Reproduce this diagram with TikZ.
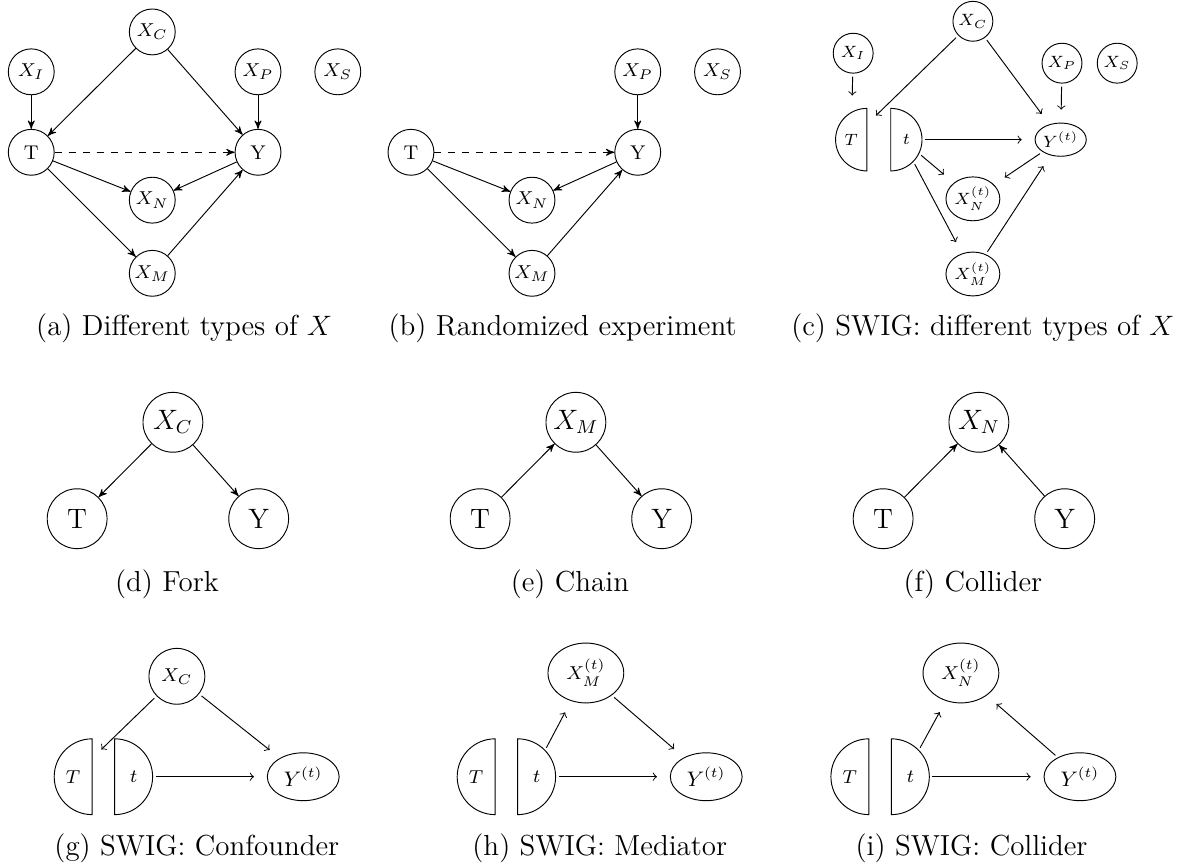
\documentclass[tikz,border=0pt]{standalone}
\usetikzlibrary{arrows}
\usetikzlibrary{shapes.geometric}

\tikzset{
  dagnode/.style={circle, draw, inner sep=0pt, minimum size=0.69cm, font=\fontsize{8.5}{10}\selectfont},
  bignode/.style={dagnode, minimum size=0.9cm, font=\fontsize{12}{14}\selectfont},
  tinynode/.style={dagnode, minimum size=0.6cm, font=\fontsize{7}{8}\selectfont},
  potnode/.style={ellipse, draw, inner sep=0pt},
  halfnode/.style={rectangle, inner sep=0pt, outer sep=0pt},
  dag/.style={-stealth'},
  swigarr/.style={->, shorten >=5.5pt, shorten <=1.3pt},
  subcap/.style={anchor=base, font=\fontsize{12.4}{14.5}\selectfont}
}

\begin{document}
\begin{tikzpicture}
	\useasboundingbox (0,0) rectangle (18,-13.04);

	% (a)
	\node[dagnode] (xca) at (2.29,-0.48) {$X_C$};
	\node[dagnode] (xia) at (0.47,-1.08) {$X_I$};
	\node[dagnode] (xpa) at (3.88,-1.08) {$X_P$};
	\node[dagnode] (xsa) at (5.08,-1.08) {$X_S$};
	\node[dagnode] (ta) at (0.47,-2.29) {T};
	\node[dagnode] (ya) at (3.88,-2.29) {Y};
	\node[dagnode] (xna) at (2.29,-3.01) {$X_N$};
	\node[dagnode] (xma) at (2.29,-4.11) {$X_M$};
	\draw[dag] (xia) -- (ta);
	\draw[dag] (xca) -- (ta);
	\draw[dag] (xca) -- (ya);
	\draw[dag] (xpa) -- (ya);
	\draw[dag, dashed] (ta) -- (ya);
	\draw[dag] (ta) -- (xna);
	\draw[dag] (ya) -- (xna);
	\draw[dag] (ta) -- (xma);
	\draw[dag] (xma) -- (ya);
	\node[subcap] (capa) at (2.77,-5.05) {(a) Different types of $X$};

	% (b)
	\begin{scope}[xshift=5.71cm]
		\node[dagnode] (xpb) at (3.88,-1.08) {$X_P$};
		\node[dagnode] (xsb) at (5.08,-1.08) {$X_S$};
		\node[dagnode] (tb) at (0.47,-2.29) {T};
		\node[dagnode] (yb) at (3.88,-2.29) {Y};
		\node[dagnode] (xnb) at (2.29,-3.01) {$X_N$};
		\node[dagnode] (xmb) at (2.29,-4.11) {$X_M$};
		\draw[dag] (xpb) -- (yb);
		\draw[dag, dashed] (tb) -- (yb);
		\draw[dag] (tb) -- (xnb);
		\draw[dag] (yb) -- (xnb);
		\draw[dag] (tb) -- (xmb);
		\draw[dag] (xmb) -- (yb);
		\node[subcap] (capb) at (2.75,-5.05) {(b) Randomized experiment};
	\end{scope}

	% (c)
	\node[tinynode] (xcc) at (14.63,-0.32) {$X_C$};
	\node[tinynode] (xic) at (12.83,-0.80) {$X_I$};
	\node[tinynode] (xpc) at (15.97,-0.95) {$X_P$};
	\node[tinynode] (xsc) at (16.80,-0.95) {$X_S$};
	\node[halfnode, minimum width=0.47cm, minimum height=0.94cm, font=\fontsize{7}{8}\selectfont] (hTc) at (12.80,-2.10) {$T$};
	\node[halfnode, minimum width=0.47cm, minimum height=0.94cm, font=\fontsize{7}{8}\selectfont] (htc) at (13.63,-2.10) {$t$};
	\draw (hTc.north east) arc[start angle=90, end angle=270, radius=0.47cm] -- cycle;
	\draw (htc.north west) arc[start angle=90, end angle=-90, radius=0.47cm] -- cycle;
	\node[potnode, minimum width=0.77cm, minimum height=0.5cm, font=\fontsize{7}{8}\selectfont] (yc) at (15.95,-2.10) {$Y^{(t)}$};
	\node[potnode, minimum width=0.81cm, minimum height=0.66cm, font=\fontsize{7}{8}\selectfont] (xnc) at (14.63,-2.99) {$X_N^{(t)}$};
	\node[potnode, minimum width=0.81cm, minimum height=0.66cm, font=\fontsize{7}{8}\selectfont] (xmc) at (14.63,-4.12) {$X_M^{(t)}$};
	\draw[swigarr] (xic) -- (hTc);
	\draw[swigarr] (xcc) -- (hTc);
	\draw[swigarr] (xcc) -- (yc);
	\draw[swigarr] (xpc) -- (yc);
	\draw[swigarr] (htc) -- (yc);
	\draw[swigarr] ([shift={(-26:0.47cm)}]htc.west) -- (xnc);
	\draw[swigarr] (yc) -- (xnc);
	\draw[swigarr] ([shift={(-44:0.47cm)}]htc.west) -- (xmc);
	\draw[swigarr] (xmc) -- (yc);
	\node[subcap] (capc) at (14.78,-5.05) {(c) SWIG: different types of $X$};

	% (d) fork
	\node[bignode] (xcd) at (2.60,-6.35) {$X_C$};
	\node[bignode] (td) at (1.16,-7.80) {T};
	\node[bignode] (yd) at (3.89,-7.80) {Y};
	\draw[dag] (xcd) -- (td);
	\draw[dag] (xcd) -- (yd);
	\node[subcap] (capd) at (2.51,-8.89) {(d) Fork};

	% (e) chain
	\begin{scope}[xshift=6.06cm]
		\node[bignode] (xme) at (2.60,-6.35) {$X_M$};
		\node[bignode] (te) at (1.16,-7.80) {T};
		\node[bignode] (ye) at (3.89,-7.80) {Y};
		\draw[dag] (te) -- (xme);
		\draw[dag] (xme) -- (ye);
		\node[subcap] (cape) at (2.51,-8.89) {(e) Chain};
	\end{scope}

	% (f) collider
	\begin{scope}[xshift=12.12cm]
		\node[bignode] (xnf) at (2.60,-6.35) {$X_N$};
		\node[bignode] (tf) at (1.16,-7.80) {T};
		\node[bignode] (yf) at (3.89,-7.80) {Y};
		\draw[dag] (tf) -- (xnf);
		\draw[dag] (yf) -- (xnf);
		\node[subcap] (capf) at (2.51,-8.89) {(f) Collider};
	\end{scope}

	% (g) swig confounder
	\node[dagnode, minimum size=0.84cm] (xcg) at (2.66,-10.17) {$X_C$};
	\node[halfnode, minimum width=0.57cm, minimum height=1.14cm, font=\fontsize{8}{9}\selectfont] (hTg) at (1.10,-11.68) {$T$};
	\node[halfnode, minimum width=0.57cm, minimum height=1.14cm, font=\fontsize{8}{9}\selectfont] (htg) at (2.01,-11.68) {$t$};
	\draw (hTg.north east) arc[start angle=90, end angle=270, radius=0.57cm] -- cycle;
	\draw (htg.north west) arc[start angle=90, end angle=-90, radius=0.57cm] -- cycle;
	\node[potnode, minimum width=1.08cm, minimum height=0.72cm, font=\fontsize{9}{10}\selectfont] (yg) at (4.56,-11.68) {$Y^{(t)}$};
	\draw[swigarr] (xcg) -- (hTg);
	\draw[swigarr] (xcg) -- (yg);
	\draw[swigarr] (htg) -- (yg);
	\node[subcap] (capg) at (2.96,-12.86) {(g) SWIG: Confounder};

	% (h) swig mediator
	\begin{scope}[xshift=6.06cm]
		\node[potnode, minimum width=1.14cm, minimum height=0.9cm, font=\fontsize{8.5}{10}\selectfont] (xmh) at (2.75,-10.12) {$X_M^{(t)}$};
		\node[halfnode, minimum width=0.57cm, minimum height=1.14cm, font=\fontsize{8}{9}\selectfont] (hTh) at (1.10,-11.68) {$T$};
		\node[halfnode, minimum width=0.57cm, minimum height=1.14cm, font=\fontsize{8}{9}\selectfont] (hth) at (2.01,-11.68) {$t$};
		\draw (hTh.north east) arc[start angle=90, end angle=270, radius=0.57cm] -- cycle;
		\draw (hth.north west) arc[start angle=90, end angle=-90, radius=0.57cm] -- cycle;
		\node[potnode, minimum width=1.08cm, minimum height=0.72cm, font=\fontsize{9}{10}\selectfont] (yh) at (4.56,-11.68) {$Y^{(t)}$};
		\draw[swigarr] ([shift={(44:0.57cm)}]hth.west) -- (xmh);
		\draw[swigarr] (xmh) -- (yh);
		\draw[swigarr] (hth) -- (yh);
		\node[subcap] (caph) at (2.96,-12.86) {(h) SWIG: Mediator};
	\end{scope}

	% (i) swig collider
	\begin{scope}[xshift=11.68cm]
		\node[potnode, minimum width=1.14cm, minimum height=0.9cm, font=\fontsize{8.5}{10}\selectfont] (xni) at (2.77,-10.12) {$X_N^{(t)}$};
		\node[halfnode, minimum width=0.57cm, minimum height=1.14cm, font=\fontsize{8}{9}\selectfont] (hTi) at (1.10,-11.68) {$T$};
		\node[halfnode, minimum width=0.57cm, minimum height=1.14cm, font=\fontsize{8}{9}\selectfont] (hti) at (2.01,-11.68) {$t$};
		\draw (hTi.north east) arc[start angle=90, end angle=270, radius=0.57cm] -- cycle;
		\draw (hti.north west) arc[start angle=90, end angle=-90, radius=0.57cm] -- cycle;
		\node[potnode, minimum width=1.08cm, minimum height=0.72cm, font=\fontsize{9}{10}\selectfont] (yi) at (4.56,-11.68) {$Y^{(t)}$};
		\draw[swigarr] ([shift={(44:0.57cm)}]hti.west) -- (xni);
		\draw[swigarr] (yi) -- (xni);
		\draw[swigarr] (hti) -- (yi);
		\node[subcap] (capi) at (2.93,-12.86) {(i) SWIG: Collider};
	\end{scope}
\end{tikzpicture}
\end{document}
